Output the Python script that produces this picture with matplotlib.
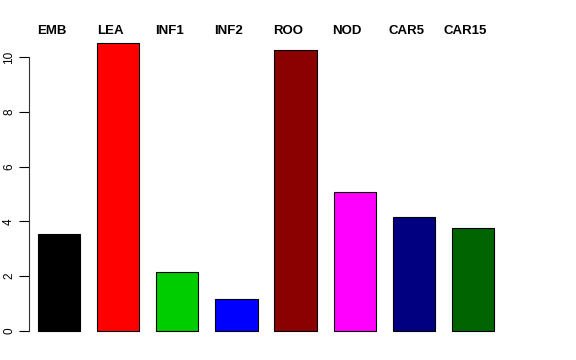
import matplotlib
matplotlib.use("Agg")
import matplotlib.pyplot as plt
import matplotlib.transforms as mtransforms
import numpy as np

categories = ["EMB", "LEA", "INF1", "INF2", "ROO", "NOD", "CAR5", "CAR15"]
values = [3.54, 10.51, 2.15, 1.17, 10.26, 5.07, 4.16, 3.76]
colors = ["#000000", "#FF0000", "#00CD00", "#0000FF", "#8B0000", "#FF00FF", "#000080", "#006400"]
yticks = [0, 2, 4, 6, 8, 10]

plt.rcParams['font.family'] = ['Liberation Sans', 'DejaVu Sans']

W, H = 576, 360
fig = plt.figure(figsize=(W / 100, H / 100), dpi=100)

# axes placement in pixels
x_left_px, x_right_px = 29, 510
y_top_px, y_bot_px = 31.5, 342.5
ax = fig.add_axes([x_left_px / W, 1 - y_bot_px / H,
                   (x_right_px - x_left_px) / W, (y_bot_px - y_top_px) / H])

space = 0.4
xpos = np.arange(len(categories)) * (1 + space) + space + 0.5
ax.bar(xpos, values, width=1.0, color=colors, edgecolor="black", linewidth=0.8)

ax.set_xlim(0.189, 0.189 + (x_right_px - x_left_px) / 42.24)
ax.set_ylim(-0.42, 10.93)

for s in ["top", "right", "bottom"]:
    ax.spines[s].set_visible(False)
ax.spines["left"].set_bounds(0, 10)
ax.spines["left"].set_linewidth(0.8)
ax.spines["left"].set_color("#333333")
ax.set_xticks([])
ax.set_yticks(yticks)
ax.set_yticklabels([str(t) for t in yticks], rotation=90, va="center", fontsize=8.5)
ax.tick_params(axis="y", length=7, width=0.8, pad=3)

trans = mtransforms.blended_transform_factory(ax.transData, fig.transFigure)
trans = mtransforms.offset_copy(trans, fig=fig, x=-7.5, y=0, units="dots")
for x, lab in zip(xpos, categories):
    ax.text(x, 1 - 31.5 / H, lab, transform=trans, ha="center", va="center",
            fontsize=9.5, fontweight="bold", clip_on=False)

fig.savefig("out.png", dpi=100)
